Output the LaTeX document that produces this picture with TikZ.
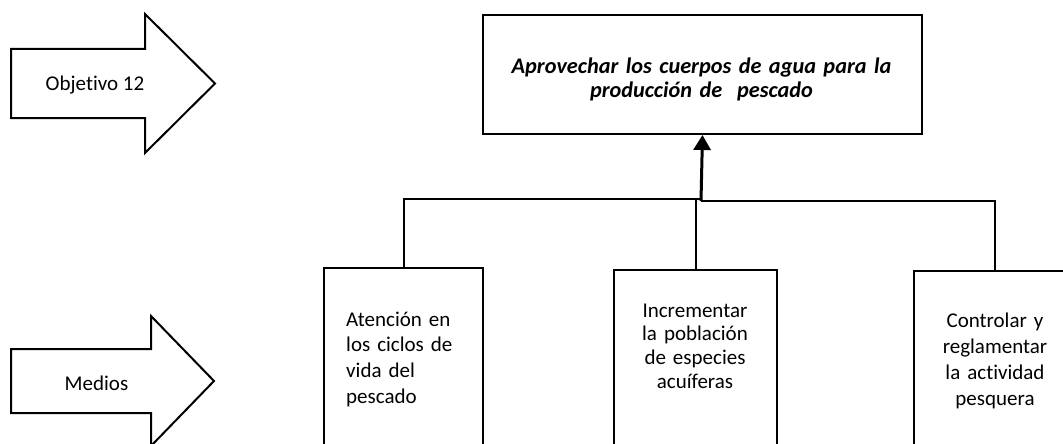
\documentclass[tikz,border=0pt]{standalone}
\usepackage{fontspec}
\setmainfont{Carlito}[RawFeature={-liga}]
\usetikzlibrary{arrows.meta}
\begin{document}
\begin{tikzpicture}[x=1pt,y=-1pt,
  frame/.style={draw=black, line width=2pt, fill=white, inner sep=0pt},
  bigarrow/.style={draw=black, line width=2pt, line join=miter, fill=white},
  wire/.style={draw=black, line width=2pt},
  mainwire/.style={draw=black, line width=3pt, -{Triangle[width=17pt,length=15pt]}},
  lbl/.style={inner sep=0pt, font=\fontsize{21}{25.5}\selectfont},
  boxtxt/.style={inner sep=0pt, font=\fontsize{21}{25.5}\selectfont, text width=150pt, align=center, anchor=base}
]
\useasboundingbox (0,0) rectangle (1063,444);
\begin{scope}
\clip (0,0) rectangle (1063,444);
% big arrows
\draw[bigarrow] (11,49) -- (145,49) -- (145,14) -- (215,83.5) -- (145,153) -- (145,118) -- (11,118) -- cycle;
\draw[bigarrow] (11,349) -- (151,349) -- (151,316) -- (214,381) -- (151,446) -- (151,413) -- (11,413) -- cycle;
\node[lbl] (obj) at (95,85) {Objetivo 12};
\node[lbl] (med) at (96.5,383) {Medios};
% top box
\node[frame, minimum width=439pt, minimum height=119pt, anchor=north west] (top) at (482,14) {};
\node[inner sep=0pt, font=\fontsize{22.3}{23.5}\selectfont\bfseries\itshape, text width=430pt, align=center, anchor=base] (toptxt) at (701.5,74) {Aprovechar los cuerpos de agua para la\\producción de \ pescado};
% bottom boxes
\node[frame, minimum width=159pt, minimum height=250pt, anchor=north] (b1) at (403.5,267) {};
\node[frame, minimum width=163pt, minimum height=250pt, anchor=north] (b2) at (695.5,269) {};
\node[frame, minimum width=163pt, minimum height=250pt, anchor=north] (b3) at (995,270) {};
\node[inner sep=0pt, font=\fontsize{21}{25.7}\selectfont, text width=130pt, align=left, anchor=base west] (t1) at (346,326) {Atención en\\los ciclos de\\vida del\\pescado};
\node[boxtxt, font=\fontsize{21}{23.7}\selectfont] (t2) at (695,317) {Incrementar\\la población\\de especies\\acuíferas};
\node[boxtxt, font=\fontsize{21}{26}\selectfont] (t3) at (995,327) {Controlar y\\reglamentar\\la actividad\\pesquera};
% connectors
\coordinate (jl) at (701,199);
\coordinate (jr) at (701,201);
\draw[wire] (b1.north) |- (jl);
\draw[wire] (b3.north) |- (jr);
\draw[wire] (b2.north) -- (b2.north |- jl);
\draw[mainwire] (jr) -- (top.south);
\end{scope}
\end{tikzpicture}
\end{document}
